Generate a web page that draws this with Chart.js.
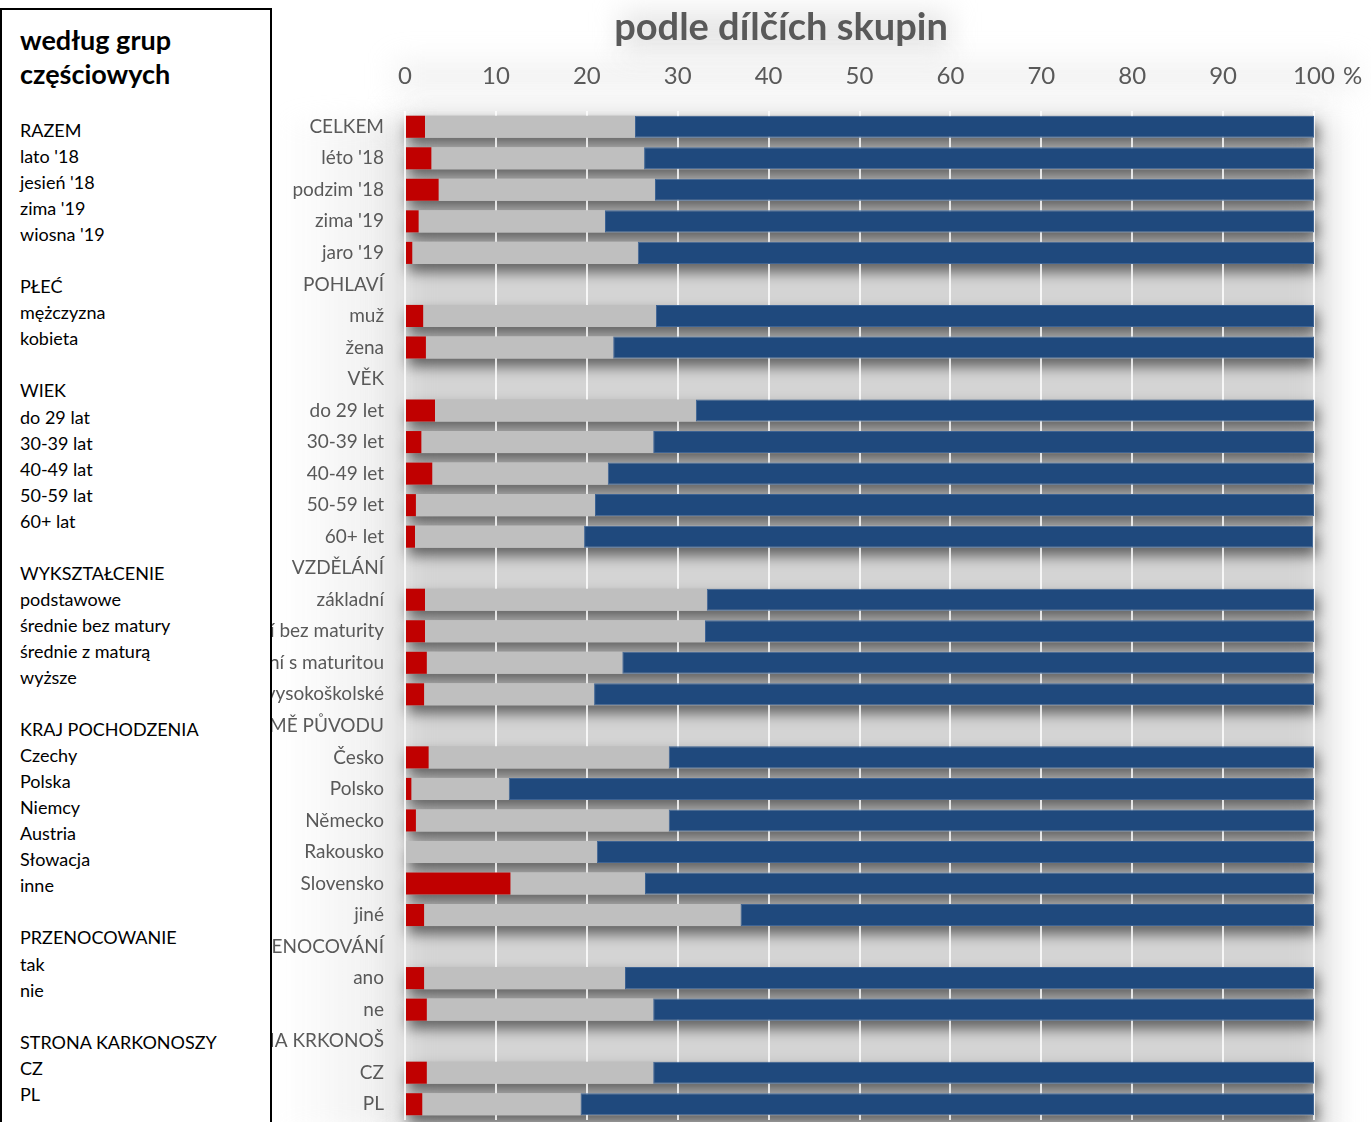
<!DOCTYPE html>
<html><head><meta charset="utf-8">
<script src="https://cdn.jsdelivr.net/npm/chart.js@4/dist/chart.umd.min.js"></script>
<style>
html,body{margin:0;padding:0;background:#fff;}
#wrap{position:relative;width:1371px;height:1122px;overflow:hidden;}
#c{position:absolute;left:0;top:0;}
#box{position:absolute;left:0;top:8px;width:268px;height:1140px;border:2px solid #000;background:#fff;font-family:Lato,"Noto Sans",sans-serif;color:#000;box-sizing:content-box;}
#box .t{font-weight:bold;font-size:27px;line-height:34px;padding:13px 0 0 18px;}
#box .l{padding:26px 0 0 18px;font-size:18px;line-height:26.05px;}
#box .l div{height:26.05px;white-space:nowrap;}
</style></head>
<body><div id="wrap"><canvas id="c" width="1371" height="1122"></canvas>
<div id="box"><div class="t">według grup<br>częściowych</div><div class="l" id="list"></div></div></div>
<script>
const categories = ["CELKEM","léto '18","podzim '18","zima '19","jaro '19","POHLAVÍ","muž","žena","VĚK","do 29 let","30-39 let","40-49 let","50-59 let","60+ let","VZDĚLÁNÍ","základní","střední bez maturity","střední s maturitou","vysokoškolské","ZEMĚ PŮVODU","Česko","Polsko","Německo","Rakousko","Slovensko","jiné","PŘENOCOVÁNÍ","ano","ne","STRANA KRKONOŠ","CZ","PL"];
const valuesRed  = [2.2,2.9,3.7,1.5,0.8,null,2.0,2.3,null,3.3,1.8,3.0,1.2,1.1,null,2.2,2.2,2.4,2.1,null,2.6,0.7,1.2,0,11.6,2.1,null,2.1,2.4,null,2.4,1.9];
const valuesGrey = [23.1,23.4,23.8,20.5,24.8,null,25.6,20.6,null,28.7,25.5,19.3,19.7,18.6,null,31.0,30.8,21.5,18.7,null,26.4,10.7,27.8,21.1,14.8,34.8,null,22.1,24.9,null,24.9,17.4];
const valuesBlue = [74.7,73.7,72.5,78.0,74.4,null,72.4,77.1,null,68.0,72.7,77.7,79.1,80.2,null,66.8,67.0,76.1,79.2,null,71.0,88.6,71.0,78.9,73.6,63.1,null,75.8,72.7,null,72.7,80.7];
const xTicks = [0,10,20,30,40,50,60,70,80,90,100];
const titleText = "podle dílčích skupin";
const boxLines = ["RAZEM","lato '18","jesień '18","zima '19","wiosna '19","","PŁEĆ","mężczyzna","kobieta","","WIEK","do 29 lat","30-39 lat","40-49 lat","50-59 lat","60+ lat","","WYKSZTAŁCENIE","podstawowe","średnie bez matury","średnie z maturą","wyższe","","KRAJ POCHODZENIA","Czechy","Polska","Niemcy","Austria","Słowacja","inne","","PRZENOCOWANIE","tak","nie","","STRONA KARKONOSZY","CZ","PL"];

const list = document.getElementById('list');
boxLines.forEach(t => { const d = document.createElement('div'); d.textContent = t; list.appendChild(d); });

const shadowPlugin = {
  id: 'shadowBg',
  beforeDraw(chart) {
    const ctx = chart.ctx, a = chart.chartArea, xs = chart.scales.x;
    const x0 = xs.getPixelForValue(0), x1 = xs.getPixelForValue(100);
    ctx.save();
    ctx.filter = 'blur(12px)';
    const g = ctx.createLinearGradient(280, 0, x0, 0);
    g.addColorStop(0, 'rgba(225,225,225,0)');
    g.addColorStop(1, 'rgba(225,225,225,0.6)');
    ctx.fillStyle = g;
    ctx.fillRect(280, a.top + 10, x0 - 280, a.bottom - a.top);
    ctx.filter = 'blur(14px)';
    ctx.fillStyle = 'rgba(200,200,200,0.45)';
    ctx.fillRect(620, 12, 330, 40);
    ctx.fillStyle = 'rgba(215,215,215,0.35)';
    ctx.fillRect(395, 62, 960, 28);
    ctx.filter = 'blur(16px)';
    ctx.fillStyle = '#d4d4d4';
    ctx.fillRect(x0 - 6, a.top + 6, x1 - x0 + 20, a.bottom - a.top + 20);
    ctx.restore();
    const meta = chart.getDatasetMeta(2);
    ctx.save();
    ctx.shadowColor = 'rgba(0,0,0,0.55)';
    ctx.shadowBlur = 14;
    ctx.shadowOffsetX = 3;
    ctx.shadowOffsetY = 8;
    ctx.fillStyle = '#bfbfbf';
    meta.data.forEach((el, i) => {
      if (valuesBlue[i] == null) return;
      const h = el.height;
      ctx.fillRect(x0, el.y - h / 2, x1 - x0, h);
    });
    ctx.restore();
  },
  afterDraw(chart) {
    const ctx = chart.ctx, xs = chart.scales.x;
    ctx.save();
    ctx.fillStyle = '#595959';
    ctx.textBaseline = 'middle';
    ctx.font = '24px Lato';
    ctx.textAlign = 'left';
    ctx.fillText('%', xs.getPixelForValue(100) + 29, 76);
    ctx.font = 'bold 38px Lato';
    ctx.textAlign = 'center';
    ctx.fillText(titleText, 781, 28);
    ctx.restore();
  }
};

new Chart(document.getElementById('c'), {
  type: 'bar',
  data: {
    labels: categories,
    datasets: [
      { data: valuesRed, backgroundColor: '#c00000' },
      { data: valuesGrey, backgroundColor: '#bfbfbf' },
      { data: valuesBlue, backgroundColor: '#1f497d', borderColor: '#3d6394', borderWidth: 1, borderSkipped: false }
    ]
  },
  plugins: [shadowPlugin],
  options: {
    indexAxis: 'y',
    responsive: false,
    animation: false,
    devicePixelRatio: 1,
    layout: { padding: { left: 0, right: 57, top: 62, bottom: 2 } },
    datasets: { bar: { categoryPercentage: 1, barPercentage: 0.7 } },
    plugins: {
      legend: { display: false },
      tooltip: { enabled: false },
      title: { display: false }
    },
    scales: {
      x: {
        position: 'top', stacked: true, min: 0, max: 100,
        afterBuildTicks: s => { s.ticks = xTicks.map(v => ({ value: v })); },
        afterFit: s => { s.height = 49; },
        ticks: { color: '#595959', font: { family: 'Lato', size: 24 }, padding: 20, maxRotation: 0 },
        grid: { color: 'rgba(255,255,255,0.8)', lineWidth: 2, drawTicks: false },
        border: { display: false }
      },
      y: {
        stacked: true,
        afterFit: s => { s.width = 405; s.paddingTop = 0; s.paddingBottom = 0; },
        ticks: { color: '#595959', font: { family: 'Lato', size: 19 }, padding: 13, autoSkip: false },
        grid: { display: false },
        border: { display: false }
      }
    }
  }
});
</script></body></html>
